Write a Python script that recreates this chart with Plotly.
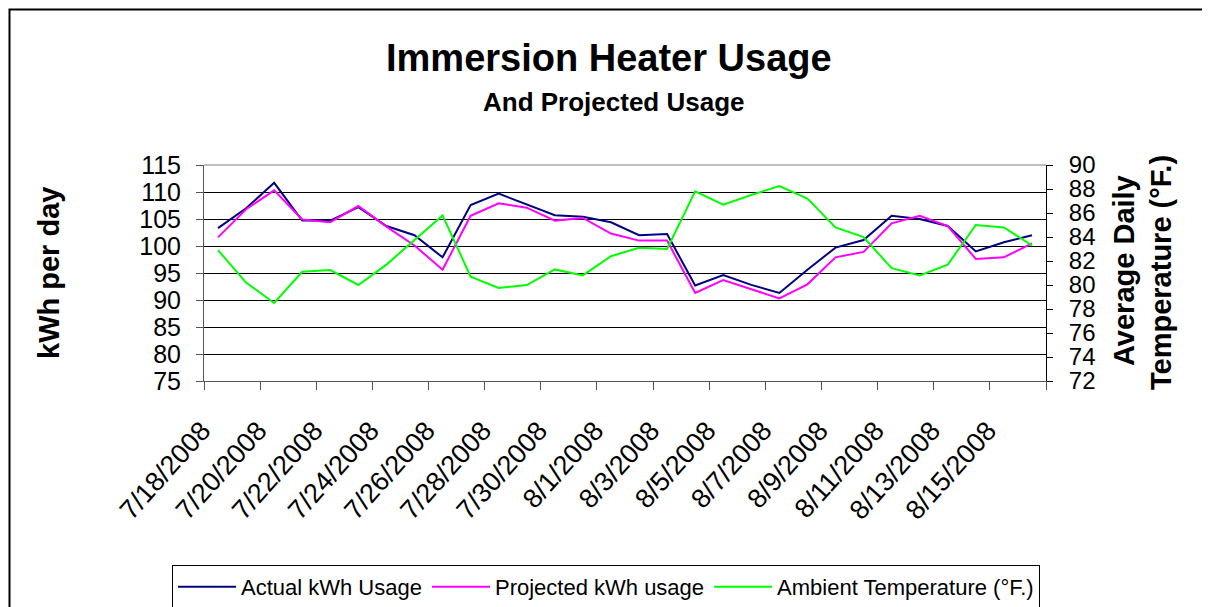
import plotly.graph_objects as go

dates = ["7/18/2008", "7/19/2008", "7/20/2008", "7/21/2008", "7/22/2008", "7/23/2008",
         "7/24/2008", "7/25/2008", "7/26/2008", "7/27/2008", "7/28/2008", "7/29/2008",
         "7/30/2008", "7/31/2008", "8/1/2008", "8/2/2008", "8/3/2008", "8/4/2008",
         "8/5/2008", "8/6/2008", "8/7/2008", "8/8/2008", "8/9/2008", "8/10/2008",
         "8/11/2008", "8/12/2008", "8/13/2008", "8/14/2008", "8/15/2008", "8/16/2008"]

actual_kwh = [103.3, 107.0, 111.7, 104.7, 104.7, 107.2, 103.7, 102.0, 97.9, 107.6,
              109.7, 107.7, 105.7, 105.4, 104.4, 102.0, 102.2, 92.7, 94.6, 92.8,
              91.3, 95.6, 99.7, 101.1, 105.6, 105.0, 103.7, 99.0, 100.7, 102.0]

projected_kwh = [101.6, 106.8, 110.3, 104.9, 104.4, 107.4, 103.6, 100.1, 95.6, 105.6,
                 107.9, 107.1, 104.7, 105.2, 102.3, 101.0, 101.0, 91.3, 93.7, 92.0,
                 90.3, 92.9, 97.9, 98.9, 104.2, 105.6, 103.7, 97.6, 97.9, 100.5]

ambient_temp = [82.9, 80.2, 78.5, 81.1, 81.25, 80.0, 81.7, 83.75, 85.8, 80.7,
                79.75, 80.0, 81.3, 80.8, 82.4, 83.1, 83.0, 87.8, 86.7, 87.5,
                88.25, 87.2, 84.8, 84.0, 81.4, 80.8, 81.7, 85.0, 84.8, 83.3]

FONT = "Liberation Sans, Arial, sans-serif"

fig = go.Figure()
fig.add_trace(go.Scatter(x=dates, y=actual_kwh, mode="lines", name="Actual kWh Usage",
                         line=dict(color="#000080", width=2), yaxis="y"))
fig.add_trace(go.Scatter(x=dates, y=projected_kwh, mode="lines", name="Projected kWh usage",
                         line=dict(color="#FF00FF", width=2), yaxis="y"))
fig.add_trace(go.Scatter(x=dates, y=ambient_temp, mode="lines", name="Ambient Temperature (°F.)",
                         line=dict(color="#00FF00", width=2), yaxis="y2"))

# page body has an 8px margin; target plot area is x 204..1046, y 165..381 on the page
OFF = 8
W, H = 1210 - OFF, 607 - OFF
L, T = 204 - OFF, 165 - OFF
pw, ph = 842, 216
R = W - L - pw
B = H - T - ph

def px_x(p):
    return (p - OFF - L) / pw

def px_y(p):
    return (T + ph - (p - OFF)) / ph

fig.update_layout(
    width=W, height=H,
    margin=dict(l=L, r=R, t=T, b=B, autoexpand=False),
    paper_bgcolor="white", plot_bgcolor="white",
    font=dict(family=FONT, color="black"),
    showlegend=True,
    legend=dict(orientation="h", x=px_x(172), xanchor="left", y=px_y(565), yanchor="top",
                bordercolor="black", borderwidth=1, font=dict(size=22, family=FONT),
                bgcolor="white", itemwidth=58),
    xaxis=dict(type="category", range=[-0.5, 29.5], tickson="boundaries", dtick=2,
               ticks="outside", ticklen=8, tickcolor="#555", tickwidth=1,
               showline=True, linecolor="#555", linewidth=1,
               showgrid=False, tickangle=-48, tickfont=dict(size=27, family=FONT),
               ticklabelstandoff=22, ticklabelshift=-16, automargin=False),
    yaxis=dict(range=[75, 115], dtick=5, tick0=75, ticks="outside", ticklen=7,
               tickcolor="#555", showline=True, linecolor="#555", linewidth=1,
               showgrid=True, gridcolor="black", gridwidth=1, zeroline=False,
               tickfont=dict(size=25, family=FONT), ticklabelstandoff=10, automargin=False),
    yaxis2=dict(range=[72, 90], dtick=2, tick0=72, overlaying="y", side="right", anchor="x",
                ticks="outside", ticklen=6, tickcolor="black", showline=True,
                linecolor="black", linewidth=1, showgrid=False, zeroline=False,
                tickfont=dict(size=24, family=FONT), ticklabelstandoff=11, automargin=False),
    yaxis3=dict(range=[72, 90], dtick=2, tick0=72, overlaying="y", side="right", anchor="x",
                ticks="inside", ticklen=6, tickcolor="black", showline=False,
                showgrid=False, zeroline=False, showticklabels=False, automargin=False),
)

# plot-area top border (gray) and outer chart border
fig.add_shape(type="line", xref="paper", yref="paper", x0=0, x1=1, y0=1, y1=1,
              line=dict(color="#808080", width=1), layer="above")
fig.add_shape(type="rect", xref="paper", yref="paper",
              x0=px_x(9.5), x1=px_x(1230), y0=px_y(9.5), y1=px_y(630),
              line=dict(color="black", width=2), layer="above")

fig.add_annotation(text="<b>Immersion Heater Usage</b>", xref="paper", yref="paper",
                   x=px_x(609), y=px_y(58), xanchor="center", yanchor="middle",
                   showarrow=False, font=dict(size=38, family=FONT))
fig.add_annotation(text="<b>And Projected Usage</b>", xref="paper", yref="paper",
                   x=px_x(614), y=px_y(102), xanchor="center", yanchor="middle",
                   showarrow=False, font=dict(size=26, family=FONT))
fig.add_annotation(text="<b>kWh per day</b>", xref="paper", yref="paper",
                   x=px_x(49), y=0.5, xanchor="center", yanchor="middle", textangle=-90,
                   showarrow=False, font=dict(size=29, family=FONT))
fig.add_annotation(text="<b>Average Daily</b>", xref="paper", yref="paper",
                   x=px_x(1124), y=px_y(271), xanchor="center", yanchor="middle", textangle=-90,
                   showarrow=False, font=dict(size=29, family=FONT), borderpad=0)
fig.add_annotation(text="<b>Temperature (°F.)</b>", xref="paper", yref="paper",
                   x=px_x(1161), y=px_y(273), xanchor="center", yanchor="middle", textangle=-90,
                   showarrow=False, font=dict(size=29, family=FONT), borderpad=0)

fig.write_html("out.html")
